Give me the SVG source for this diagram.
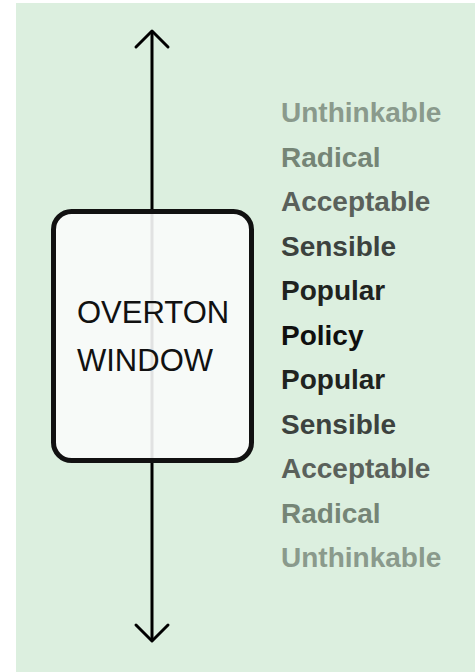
<svg xmlns="http://www.w3.org/2000/svg" width="475" height="672" viewBox="0 0 475 672">
<style>
.lbl{font-family:"Liberation Sans",Arial,sans-serif;font-weight:bold;font-size:28px}
.win{font-family:"Liberation Sans",Arial,sans-serif;font-size:31px;fill:#111}
.ax{stroke:#000;stroke-width:3;fill:none;stroke-linecap:round;stroke-linejoin:round}
</style>
<rect x="16" y="3" width="459" height="669" fill="#dcefdf"/>
<g id="axis">
<path class="ax" d="M152 33 V640"/>
<path class="ax" d="M136 47 L152 31 L168 47"/>
<path class="ax" d="M136 625 L152 641 L168 625"/>
</g>
<g id="window">
<rect x="53.5" y="211.5" width="198" height="249" rx="18" fill="#fafbfb" fill-opacity="0.9" stroke="#111" stroke-width="5"/>
<text class="win" x="77" y="323">OVERTON</text>
<text class="win" x="77" y="371">WINDOW</text>
</g>
<g id="labels">
<text class="lbl" x="281" y="122" fill="#8a9a8c">Unthinkable</text>
<text class="lbl" x="281" y="166.5" fill="#758576">Radical</text>
<text class="lbl" x="281" y="211" fill="#5a615b">Acceptable</text>
<text class="lbl" x="281" y="255.5" fill="#3c423e">Sensible</text>
<text class="lbl" x="281" y="300" fill="#1f2320">Popular</text>
<text class="lbl" x="281" y="344.5" fill="#0f0f0f">Policy</text>
<text class="lbl" x="281" y="389" fill="#1f2320">Popular</text>
<text class="lbl" x="281" y="433.5" fill="#3c423e">Sensible</text>
<text class="lbl" x="281" y="478" fill="#5a615b">Acceptable</text>
<text class="lbl" x="281" y="522.5" fill="#758576">Radical</text>
<text class="lbl" x="281" y="567" fill="#8a9a8c">Unthinkable</text>
</g>
</svg>
